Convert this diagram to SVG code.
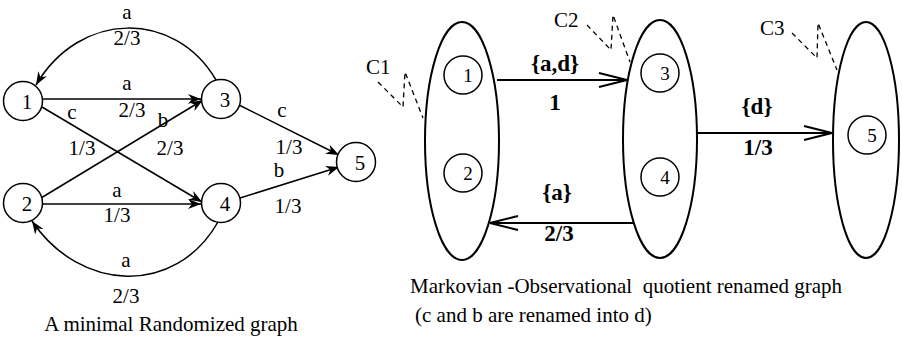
<svg xmlns="http://www.w3.org/2000/svg" width="902" height="338" viewBox="0 0 902 338" font-family="'Liberation Serif', 'DejaVu Serif', serif">
<defs>
<style>
text{font-family:'Liberation Serif','DejaVu Serif',serif}
.t{font-size:21px;fill:#000}
.m{text-anchor:middle}
.b{font-weight:bold;font-size:23px}
.nl{font-size:19px}
.e{fill:none;stroke:#000;stroke-width:1.5}
.n{fill:#fff;stroke:#000;stroke-width:1.5}
.el{fill:none;stroke:#000;stroke-width:2}
.q{fill:none;stroke:#000;stroke-width:2}
.d{fill:none;stroke:#000;stroke-width:1.3;stroke-dasharray:5 4}
</style>
<marker id="barb" viewBox="-14 -6 15 12" refX="0" refY="0" markerWidth="15" markerHeight="12" orient="auto" markerUnits="userSpaceOnUse">
<path d="M0,0 L-13,-5 L-9,0 L-13,5 Z" fill="#000"/>
</marker>
<marker id="open" viewBox="-30 -9 32 18" refX="0" refY="0" markerWidth="32" markerHeight="18" orient="auto" markerUnits="userSpaceOnUse">
<path d="M-28,-7 L0,0 L-28,7" fill="none" stroke="#000" stroke-width="2"/>
</marker>
</defs>
<rect width="902" height="338" fill="#fff"/>

<g id="connectors">
<path class="e" d="M216,80 C175,10 80,10 36,85" marker-end="url(#barb)"/>
<line class="e" x1="43" y1="99" x2="201" y2="99" marker-end="url(#barb)"/>
<line class="e" x1="42" y1="107" x2="202" y2="202" marker-end="url(#barb)"/>
<line class="e" x1="41" y1="198" x2="203" y2="100" marker-end="url(#barb)"/>
<line class="e" x1="43" y1="204" x2="201" y2="204" marker-end="url(#barb)"/>
<line class="e" x1="239" y1="105" x2="339" y2="155" marker-end="url(#barb)"/>
<line class="e" x1="240" y1="198" x2="339" y2="167" marker-end="url(#barb)"/>
<path class="e" d="M218,222 C175,297 80,292 32,221" marker-end="url(#barb)"/>

<line class="q" x1="497" y1="80" x2="627" y2="80" marker-end="url(#open)"/>
<line class="q" x1="697" y1="133" x2="832" y2="133" marker-end="url(#open)"/>
<line class="q" x1="634" y1="223" x2="490" y2="223" marker-end="url(#open)"/>

<polyline class="d" points="378,82 403,107 405,72 423,118"/>
<polyline class="d" points="587,25 611,50 613,15 630,62"/>
<polyline class="d" points="792,33 817,58 818,23 837,70"/>
</g>

<g id="edge-labels" font-family="'Liberation Serif', serif">
<text class="t m" x="127" y="19">a</text>
<text class="t m" x="127" y="45">2/3</text>
<text class="t m" x="127" y="90">a</text>
<text class="t m" x="132" y="117">2/3</text>
<text class="t m" x="72" y="119">c</text>
<text class="t m" x="163" y="127">b</text>
<text class="t m" x="82" y="155">1/3</text>
<text class="t m" x="170" y="155">2/3</text>
<text class="t m" x="282" y="117">c</text>
<text class="t m" x="289" y="154">1/3</text>
<text class="t m" x="279" y="177">b</text>
<text class="t m" x="288" y="213">1/3</text>
<text class="t m" x="117" y="197">a</text>
<text class="t m" x="117" y="222">1/3</text>
<text class="t m" x="126" y="267">a</text>
<text class="t m" x="126" y="303">2/3</text>
<text class="t m b" x="555" y="71">{a,d}</text>
<text class="t m b" x="555" y="110">1</text>
<text class="t m b" x="757" y="114">{d}</text>
<text class="t m b" x="758" y="155">1/3</text>
<text class="t m b" x="557" y="200">{a}</text>
<text class="t m b" x="559" y="241">2/3</text>
</g>

<g id="n1"><circle class="n" cx="23" cy="101" r="19.5"/><text class="t m" x="27" y="109">1</text></g>
<g id="n2"><circle class="n" cx="23" cy="203" r="19.5"/><text class="t m" x="27" y="211">2</text></g>
<g id="n3"><circle class="n" cx="221" cy="99" r="19.5"/><text class="t m" x="225" y="107">3</text></g>
<g id="n4"><circle class="n" cx="221" cy="203" r="19.5"/><text class="t m" x="225" y="211">4</text></g>
<g id="n5"><circle class="n" cx="356" cy="162" r="19.5"/><text class="t m" x="360" y="170">5</text></g>

<g id="C1">
<ellipse class="el" cx="462" cy="141" rx="37" ry="119"/>
<circle class="n" cx="463" cy="75" r="19"/><text class="t m nl" x="468" y="82">1</text>
<circle class="n" cx="463" cy="173" r="19"/><text class="t m nl" x="468" y="180">2</text>
<text class="t" x="366" y="74">C1</text>
</g>
<g id="C2">
<ellipse class="el" cx="660" cy="139" rx="37" ry="119"/>
<circle class="n" cx="660" cy="73" r="19"/><text class="t m nl" x="665" y="80">3</text>
<circle class="n" cx="660" cy="177" r="19"/><text class="t m nl" x="665" y="184">4</text>
<text class="t" x="554" y="27">C2</text>
</g>
<g id="C3">
<ellipse class="el" cx="866" cy="140" rx="33" ry="118"/>
<circle class="n" cx="867" cy="135" r="19"/><text class="t m nl" x="872" y="142">5</text>
<text class="t" x="760" y="35">C3</text>
</g>

<g id="captions">
<text class="t m" x="171" y="331">A minimal Randomized graph</text>
<text class="t" x="410" y="293" xml:space="preserve">Markovian -Observational  quotient renamed graph</text>
<text class="t" x="415" y="322">(c and b are renamed into d)</text>
</g>
</svg>
